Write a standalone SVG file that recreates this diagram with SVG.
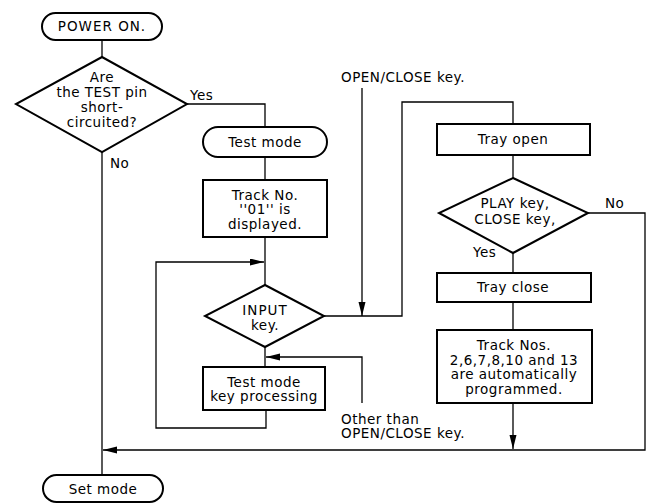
<svg xmlns="http://www.w3.org/2000/svg" width="651" height="504" viewBox="0 0 651 504">
<style>
.box{fill:#fff;stroke:#000;stroke-width:2}
.ln{fill:none;stroke:#000;stroke-width:1.3}
text{font-family:"DejaVu Sans",sans-serif;font-size:13.5px;fill:#000;letter-spacing:0.5px}
.c{text-anchor:middle}
.w{letter-spacing:1px}
</style>
<defs>
<marker id="ah" markerUnits="userSpaceOnUse" markerWidth="15" markerHeight="8" refX="14" refY="3.5" orient="auto">
<path d="M0,0 L14,3.5 L0,7 z" fill="#000"/>
</marker>
</defs>
<rect width="651" height="504" fill="#fff"/>
<g id="connectors">
<polyline class="ln" points="102,40 102,57"/>
<polyline class="ln" points="187,104 265,104 265,127"/>
<polyline class="ln" points="265,157 265,180"/>
<polyline class="ln" points="265,237 265,285"/>
<polyline class="ln" points="265,347 265,367"/>
<polyline class="ln" points="266,410 266,428 156,428 156,262 264,262" marker-end="url(#ah)"/>
<polyline class="ln" points="324,316 402,316 402,102 513,102 513,124"/>
<polyline class="ln" points="362,88 362,316" marker-end="url(#ah)"/>
<polyline class="ln" points="362,403 362,357 266,357" marker-end="url(#ah)"/>
<polyline class="ln" points="513,155 513,178"/>
<polyline class="ln" points="513,253 513,273"/>
<polyline class="ln" points="513,302 513,330"/>
<polyline class="ln" points="513,403 513,449" marker-end="url(#ah)"/>
<polyline class="ln" points="588,213 645,213 645,450 103,450" marker-end="url(#ah)"/>
<polyline class="ln" points="102,152 102,475"/>
<text x="341" y="82">OPEN/CLOSE key.</text>
<text x="341" y="423.5">Other than</text>
<text x="341" y="438">OPEN/CLOSE key.</text>
<text x="190" y="100">Yes</text>
<text x="110" y="168">No</text>
<text x="605" y="208">No</text>
<text x="473" y="257">Yes</text>
</g>
<g id="power-on">
<rect class="box" x="42" y="13" width="120" height="27" rx="13.5"/>
<text class="c w" x="102" y="31">POWER ON.</text>
</g>
<g id="test-pin">
<polygon class="box" points="102,57 187,104 102,152 16,104"/>
<text class="c" x="102" y="82">Are</text>
<text class="c" x="102" y="97">the TEST pin</text>
<text class="c" x="102" y="112">short-</text>
<text class="c" x="102" y="127">circuited?</text>
</g>
<g id="test-mode">
<rect class="box" x="203" y="127" width="124" height="30" rx="15"/>
<text class="c" x="265" y="147">Test mode</text>
</g>
<g id="track-01">
<rect class="box" x="203" y="180" width="124" height="57"/>
<text class="c" x="265" y="199.5">Track No.</text>
<text class="c" x="265" y="214">''01'' is</text>
<text class="c" x="265" y="228.5">displayed.</text>
</g>
<g id="input-key">
<polygon class="box" points="265,285 324,316 265,347 205,316"/>
<text class="c w" x="265" y="315">INPUT</text>
<text class="c" x="265" y="330">key.</text>
</g>
<g id="key-processing">
<rect class="box" x="203" y="367" width="122" height="43"/>
<text class="c" x="264" y="386.5">Test mode</text>
<text class="c" x="264" y="401">key processing</text>
</g>
<g id="tray-open">
<rect class="box" x="437" y="124" width="153" height="31"/>
<text class="c" x="513" y="144">Tray open</text>
</g>
<g id="play-close">
<polygon class="box" points="513,178 588,213 513,253 439,213"/>
<text class="c" x="515" y="208">PLAY key,</text>
<text class="c" x="515" y="224">CLOSE key,</text>
</g>
<g id="tray-close">
<rect class="box" x="437" y="273" width="154" height="29"/>
<text class="c" x="513" y="292">Tray close</text>
</g>
<g id="auto-program">
<rect class="box" x="437" y="330" width="155" height="73"/>
<text class="c" x="514" y="350">Track Nos.</text>
<text class="c" x="514" y="364.5">2,6,7,8,10 and 13</text>
<text class="c" x="514" y="379">are automatically</text>
<text class="c" x="514" y="393.5">programmed.</text>
</g>
<g id="set-mode">
<rect class="box" x="43" y="475" width="120" height="27" rx="13.5"/>
<text class="c" x="103" y="494">Set mode</text>
</g>
</svg>
